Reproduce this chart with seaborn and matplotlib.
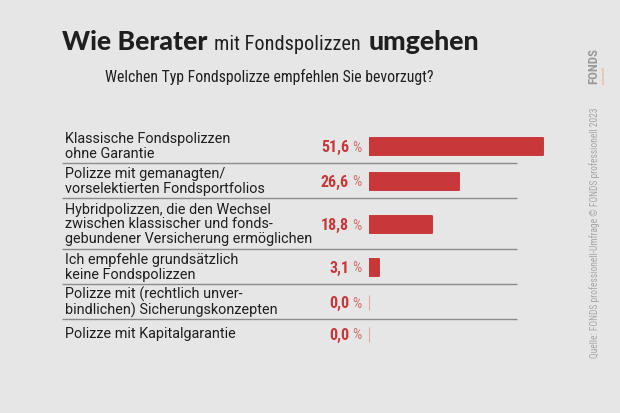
import matplotlib
matplotlib.use("Agg")
import matplotlib.pyplot as plt
import seaborn as sns
import numpy as np
from matplotlib import font_manager as fm

# ---------------- data ----------------
categories = [
    "Klassische Fondspolizzen\nohne Garantie",
    "Polizze mit gemanagten/\nvorselektierten Fondsportfolios",
    "Hybridpolizzen, die den Wechsel\nzwischen klassischer und fonds-\ngebundener Versicherung ermöglichen",
    "Ich empfehle grundsätzlich\nkeine Fondspolizzen",
    "Polizze mit (rechtlich unver-\nbindlichen) Sicherungskonzepten",
    "Polizze mit Kapitalgarantie",
]
values = [51.6, 26.6, 18.8, 3.1, 0.0, 0.0]
value_labels = ["51,6", "26,6", "18,8", "3,1", "0,0", "0,0"]
title_bold_1 = "Wie Berater"
title_light = "mit Fondspolizzen"
title_bold_2 = "umgehen"
subtitle = "Welchen Typ Fondspolizze empfehlen Sie bevorzugt?"
source = "Quelle: FONDS professionell-Umfrage © FONDS professionell 2023"
logo = "FONDS"
logo_sub = "professionell"

# ---------------- style ----------------
W, H = 620, 413
BG = "#e6e6e6"
RED = "#c8383a"
TXT = "#1f1f1f"

sns.set_theme(style="white")


def have(fam):
    try:
        fm.findfont(fm.FontProperties(family=fam), fallback_to_default=False)
        return True
    except Exception:
        return False


def find_condensed(bold=False):
    cands = []
    for f in fm.fontManager.ttflist:
        n = (f.fname + " " + f.name).lower()
        if ("condensed" in n or "narrow" in n) and "italic" not in n and "oblique" not in n:
            isbold = "bold" in n or (isinstance(f.weight, int) and f.weight >= 600)
            if isbold == bold:
                cands.append(f.fname)
    pref = ["liberationsansnarrow", "robotocondensed", "opensans_condensed",
            "opensanscondensed", "dejavusanscondensed"]
    for p in pref:
        for c in cands:
            if p in c.lower().replace("-", "").replace(" ", ""):
                return c
    return cands[0] if cands else None


NARROW_FILE = find_condensed(False)
NARROW_BOLD_FILE = find_condensed(True)
HEAVY = "Lato" if have("Lato") else "DejaVu Sans"
BODY = "Roboto" if have("Roboto") else "DejaVu Sans"
plt.rcParams["font.family"] = [BODY, "DejaVu Sans"]


def narrow_kw(bold=False):
    f = NARROW_BOLD_FILE if bold else NARROW_FILE
    if f:
        return dict(fontproperties=fm.FontProperties(fname=f))
    return dict(family=[BODY, "DejaVu Sans"], fontweight="bold" if bold else "normal")


fig = plt.figure(figsize=(W / 100, H / 100), dpi=100, facecolor=BG)
ax0 = fig.add_axes([0, 0, 1, 1])
ax0.set_xlim(0, W)
ax0.set_ylim(H, 0)
ax0.axis("off")
ax0.set_facecolor(BG)
renderer = fig.canvas.get_renderer()


def fit_text(ax, x, y, s, target_w, base=12, extra=None, **kw):
    extra = extra or {}
    t = ax.text(x, y, s, **extra, **kw)
    t.set_fontsize(base)
    bb = t.get_window_extent(renderer)
    w = bb.height if kw.get("rotation", 0) == 90 else bb.width
    t.set_fontsize(base * target_w / w)
    return t


# ---------------- title ----------------
fit_text(ax0, 62, 50, title_bold_1, 146, family=[HEAVY, "DejaVu Sans"],
         fontweight="black", color=TXT, va="baseline")
fit_text(ax0, 214, 50, title_light, 146, extra=narrow_kw(False),
         color=TXT, va="baseline")
fit_text(ax0, 369, 50, title_bold_2, 111, family=[HEAVY, "DejaVu Sans"],
         fontweight="black", color=TXT, va="baseline")
fit_text(ax0, 105, 82, subtitle, 328, extra=narrow_kw(False),
         color=TXT, va="baseline")

# ---------------- rows layout ----------------
n_lines = [c.count("\n") + 1 for c in categories]
top = 128
heights = [max(16 * n + 3, 28) for n in n_lines]
bottoms = list(np.cumsum([top] + heights)[1:])
centers = [b - h / 2 + 1 for b, h in zip(bottoms, heights)]

for i, (cat, c) in enumerate(zip(categories, centers)):
    ax0.text(65, c, cat, fontsize=10.4, color=TXT, va="center", ha="left",
             linespacing=1.06, family=[BODY, "DejaVu Sans"])
    if i < len(categories) - 1:
        ax0.plot([62, 517], [bottoms[i], bottoms[i]], color="#8c8c8c", lw=1.0,
                 solid_capstyle="butt")
    t = ax0.text(349, c + 1, value_labels[i], color=RED, ha="right", va="center",
                 **narrow_kw(True))
    t.set_fontsize(11.5)
    p = ax0.text(361.5, c + 1, "%", color="#d46a6a", ha="right", va="center",
                 **narrow_kw(False))
    p.set_fontsize(10.5)

# ---------------- bars ----------------
px_per_pct = 3.37
bar_px_w = 200
ax1 = fig.add_axes([369 / W, 0, bar_px_w / W, 1])
ax1.patch.set_alpha(0)
bar_h = 17
min_gap = np.min(np.diff(centers))
sns.barplot(x=values, y=centers, orient="h", native_scale=True, color=RED,
            saturation=1, width=bar_h / min_gap, ax=ax1,
            edgecolor=RED, linewidth=1.4)
for p in ax1.patches:
    p.set_joinstyle("round")
    if p.get_width() == 0:
        p.set_edgecolor("#dba8a8")
        p.set_linewidth(0.8)
        p.set_y(p.get_y() + 1)
        p.set_height(p.get_height() - 2)
ax1.set_xlim(0, bar_px_w / px_per_pct)
ax1.set_ylim(H, 0)
ax1.axis("off")

# ---------------- source / logo ----------------
fit_text(ax0, 595, 358, source, 250, rotation=90, extra=narrow_kw(False),
         color="#a6a6a6", ha="center", va="bottom")
fit_text(ax0, 594, 84, logo, 36, rotation=90, extra=narrow_kw(True),
         color="#9a9a9a", ha="center", va="bottom")
fit_text(ax0, 604, 84, logo_sub, 18, rotation=90, extra=narrow_kw(False),
         color="#e0a070", ha="center", va="bottom")

fig.savefig("out.png", dpi=100, facecolor=BG)
